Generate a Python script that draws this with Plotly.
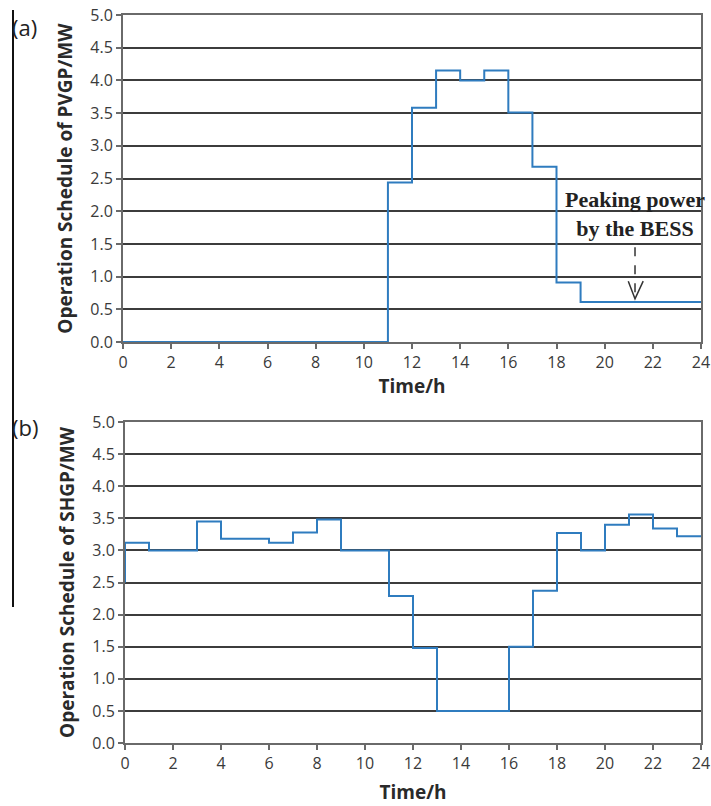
import plotly.graph_objects as go

# ---------------- data ----------------
hours = [0, 1, 2, 3, 4, 5, 6, 7, 8, 9, 10, 11, 12, 13, 14, 15, 16, 17, 18, 19, 20, 21, 22, 23, 24]

pvgp = [0, 0, 0, 0, 0, 0, 0, 0, 0, 0, 0,
        2.44, 3.58, 4.15, 4.0, 4.15, 3.51, 2.68, 0.91, 0.61, 0.61, 0.61, 0.61, 0.61]

shgp = [3.12, 3.0, 3.0, 3.45, 3.18, 3.18, 3.12, 3.28, 3.48, 3.0, 3.0,
        2.29, 1.48, 0.5, 0.5, 0.5, 1.5, 2.37, 3.27, 3.0, 3.40, 3.56, 3.34, 3.22]
shgp_start = 2.5

x_ticks = [0, 2, 4, 6, 8, 10, 12, 14, 16, 18, 20, 22, 24]
y_ticks = [0.0, 0.5, 1.0, 1.5, 2.0, 2.5, 3.0, 3.5, 4.0, 4.5, 5.0]
y_tick_text = ["0.0", "0.5", "1.0", "1.5", "2.0", "2.5", "3.0", "3.5", "4.0", "4.5", "5.0"]

annot_text = "Peaking power<br>by the BESS"
y_title_a = "Operation Schedule of PVGP/MW"
y_title_b = "Operation Schedule of SHGP/MW"
x_title = "Time/h"

# ---------------- figure ----------------
W, H = 711, 806
LINE = "#2f7cbf"
GRID = "#3c3c3c"
TXT = "#3a3a3a"


def px(v):
    return v / W


def py(v):
    return 1 - v / H


fig = go.Figure()

fig.add_trace(go.Scatter(
    x=hours, y=pvgp + [pvgp[-1]], mode="lines", line_shape="hv",
    line=dict(color=LINE, width=2), xaxis="x", yaxis="y", showlegend=False))

fig.add_trace(go.Scatter(
    x=[hours[0]] + hours, y=[shgp_start] + shgp + [shgp[-1]], mode="lines", line_shape="hv",
    line=dict(color=LINE, width=2), xaxis="x2", yaxis="y2", showlegend=False))

tickfont = dict(family="Open Sans, sans-serif", size=16, color=TXT)
titlefont = dict(family="Open Sans, sans-serif", size=19, color="#2a2a2a", weight="bold")


def xax(domain, anchor, standoff):
    return dict(domain=domain, anchor=anchor, range=[0, 24], tickmode="array",
                tickvals=x_ticks, ticktext=[str(v) for v in x_ticks],
                showgrid=False, zeroline=False, showline=True, linecolor="#6a6a6a",
                linewidth=2, mirror=True, ticks="outside", ticklen=5, tickwidth=1.5,
                tickcolor="#6a6a6a", tickfont=tickfont, automargin=False,
                ticklabeloverflow="allow",
                title=dict(text=x_title, font=titlefont, standoff=standoff))


def yax(domain, anchor, title):
    return dict(domain=domain, anchor=anchor, range=[0, 5], tickmode="array",
                tickvals=y_ticks, ticktext=y_tick_text,
                showgrid=True, gridcolor=GRID, gridwidth=2, zeroline=False,
                showline=True, linecolor="#6a6a6a", linewidth=2, mirror=True,
                ticks="outside", ticklen=5, tickwidth=1.5, tickcolor="#6a6a6a",
                tickfont=tickfont, automargin=False, ticklabeloverflow="allow",
                title=dict(text=title, font=titlefont, standoff=13))


fig.update_layout(
    width=W, height=H,
    margin=dict(l=0, r=0, t=0, b=0),
    paper_bgcolor="white", plot_bgcolor="white",
    xaxis=xax([px(123), px(701)], "y", 3),
    yaxis=yax([py(342), py(15)], "x", y_title_a),
    xaxis2=xax([px(125), px(701)], "y2", 12),
    yaxis2=yax([py(743), py(422)], "x2", y_title_b),
)

# panel labels
fig.add_annotation(text="(a)", xref="paper", yref="paper", x=px(11), y=py(11),
                   xanchor="left", yanchor="top", showarrow=False, borderpad=0,
                   font=dict(family="Open Sans, sans-serif", size=22, color="#222"))
fig.add_annotation(text="(b)", xref="paper", yref="paper", x=px(11), y=py(411),
                   xanchor="left", yanchor="top", showarrow=False, borderpad=0,
                   font=dict(family="Open Sans, sans-serif", size=22, color="#222"))

# stray left vertical rule
fig.add_shape(type="line", xref="paper", yref="paper", x0=px(13), x1=px(13),
              y0=py(10), y1=py(607), line=dict(color="#111", width=2))

# annotation text + dashed arrow
fig.add_annotation(text=annot_text, xref="x", yref="y", x=21.24, y=1.96,
                   showarrow=False, align="center", borderpad=0,
                   font=dict(family="Liberation Serif, Times New Roman, serif", size=22,
                             color="#222", weight="bold"))
fig.add_shape(type="line", xref="x", yref="y", x0=21.26, x1=21.26, y0=1.45, y1=0.68,
              line=dict(color="#333", width=1.5, dash="dash"))
fig.add_shape(type="path", xref="x", yref="y",
              path="M 20.98 0.93 L 21.26 0.66 L 21.6 0.93",
              line=dict(color="#333", width=1.5))

# remove the default 8px page margin so the figure sits at the window corner
fig.write_html("out.html", config={"displayModeBar": False},
               post_script="document.body.style.margin='0';")
